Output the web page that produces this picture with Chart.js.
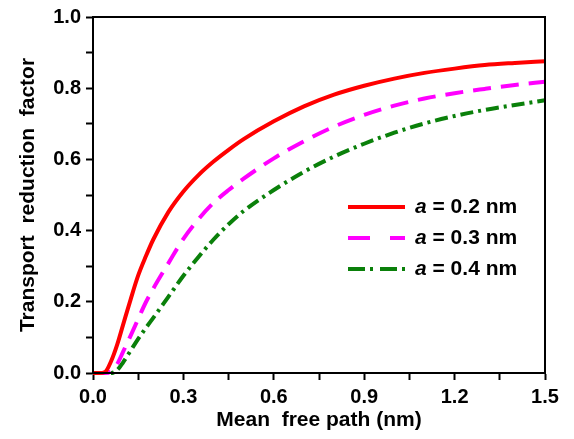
<!DOCTYPE html>
<html>
<head>
<meta charset="utf-8">
<script src="https://cdn.jsdelivr.net/npm/chart.js@4.4.1/dist/chart.umd.min.js"></script>
<style>
  html, body { margin: 0; padding: 0; background: #fff; }
  #wrap { width: 574px; height: 439px; }
</style>
</head>
<body>
<div id="wrap"><canvas id="chart" width="574" height="439"></canvas></div>
<script>
// mean free path (nm)
const pathValues = [0, 0.02, 0.04, 0.06, 0.08, 0.1, 0.125, 0.15, 0.175, 0.2, 0.25, 0.3, 0.35, 0.4, 0.45,
  0.5, 0.6, 0.7, 0.8, 0.9, 1.0, 1.1, 1.2, 1.3, 1.4, 1.5];
// transport reduction factor
const factorA02 = [0, 0, 0.003, 0.033, 0.079, 0.136, 0.207, 0.274, 0.327, 0.375, 0.452, 0.51, 0.556, 0.594, 0.627,
  0.657, 0.707, 0.749, 0.782, 0.807, 0.827, 0.843, 0.855, 0.865, 0.871, 0.876];
const factorA03 = [0, 0, 0, 0.005, 0.025, 0.06, 0.105, 0.152, 0.198, 0.237, 0.308, 0.377, 0.432, 0.478, 0.514,
  0.546, 0.603, 0.651, 0.692, 0.725, 0.751, 0.771, 0.786, 0.798, 0.809, 0.818];
const factorA04 = [0, 0, 0, 0, 0.008, 0.03, 0.063, 0.096, 0.126, 0.155, 0.214, 0.273, 0.326, 0.375, 0.418,
  0.455, 0.514, 0.565, 0.608, 0.644, 0.675, 0.701, 0.722, 0.739, 0.753, 0.766];
const seriesLabels = ["a = 0.2 nm", "a = 0.3 nm", "a = 0.4 nm"];
const xTitle = "Mean  free path (nm)";
const yTitle = "Transport  reduction  factor";

const FONT = "'Liberation Sans', Arial, sans-serif";
const colors = ["#ff0000", "#ff00ff", "#0a800a"];
const curveDash = [[], [18, 10], [13, 5, 3, 5]];
const legendDash = [[], [22, 20], [17, 5, 3, 7]];

const toPoints = (ys) => pathValues.map((x, i) => ({ x: x, y: ys[i] }));

// full box round the plot
const framePlugin = {
  id: "frame",
  afterDatasetsDraw(chart) {
    const { ctx, chartArea: a } = chart;
    ctx.save();
    ctx.strokeStyle = "#000";
    ctx.lineWidth = 2;
    ctx.strokeRect(a.left, a.top, a.right - a.left, a.bottom - a.top);
    ctx.restore();
  }
};

// legend with italic "a"
const legendPlugin = {
  id: "customLegend",
  afterDatasetsDraw(chart) {
    const ctx = chart.ctx;
    const x0 = 348, x1 = 405, tx = 415;
    const ys = [207, 238, 269];
    ctx.save();
    chart.data.datasets.forEach((ds, i) => {
      const y = ys[i];
      ctx.strokeStyle = ds.borderColor;
      ctx.lineWidth = 4;
      ctx.setLineDash(legendDash[i]);
      ctx.beginPath();
      ctx.moveTo(x0, y);
      ctx.lineTo(x1, y);
      ctx.stroke();
      ctx.setLineDash([]);
      ctx.fillStyle = "#000";
      ctx.textBaseline = "middle";
      ctx.textAlign = "left";
      const first = ds.label.slice(0, 1);
      const rest = ds.label.slice(1);
      ctx.font = "italic bold 21px " + FONT;
      ctx.fillText(first, tx, y);
      const w = ctx.measureText(first).width;
      ctx.font = "bold 21px " + FONT;
      ctx.fillText(rest, tx + w, y);
    });
    ctx.restore();
  }
};

new Chart(document.getElementById("chart"), {
  type: "line",
  data: {
    datasets: [factorA02, factorA03, factorA04].map((ys, i) => ({
      label: seriesLabels[i],
      data: toPoints(ys),
      borderColor: colors[i],
      borderWidth: 4,
      borderDash: curveDash[i],
      pointRadius: 0,
      cubicInterpolationMode: "monotone",
      fill: false,
      clip: 4
    }))
  },
  options: {
    responsive: false,
    animation: false,
    layout: { padding: { top: 15, right: 29, left: 0, bottom: 0 } },
    plugins: { legend: { display: false }, tooltip: { enabled: false } },
    scales: {
      x: {
        type: "linear",
        min: 0,
        max: 1.5,
        afterFit: (s) => { s.height = 66; },
        ticks: {
          stepSize: 0.15,
          autoSkip: false,
          maxRotation: 0,
          padding: 5,
          color: "#000",
          font: { family: FONT, size: 20, weight: "bold" },
          callback: (v, i) => (i % 2 === 0 ? Number(v).toFixed(1) : "")
        },
        grid: { drawOnChartArea: false, tickLength: 7, tickWidth: 2, tickColor: "#000" },
        border: { color: "#000", width: 2 },
        title: {
          display: true,
          text: xTitle,
          color: "#000",
          font: { family: FONT, size: 21, weight: "bold" },
          padding: { top: 0, bottom: 6 }
        }
      },
      y: {
        min: 0,
        max: 1,
        afterFit: (s) => { s.width = 93; },
        ticks: {
          stepSize: 0.1,
          autoSkip: false,
          padding: 5,
          color: "#000",
          font: { family: FONT, size: 20, weight: "bold" },
          callback: (v, i) => (i % 2 === 0 ? Number(v).toFixed(1) : "")
        },
        grid: { drawOnChartArea: false, tickLength: 7, tickWidth: 2, tickColor: "#000" },
        border: { color: "#000", width: 2 },
        title: {
          display: true,
          text: yTitle,
          color: "#000",
          font: { family: FONT, size: 21, weight: "bold" },
          padding: { top: 16, bottom: 0 }
        }
      }
    }
  },
  plugins: [framePlugin, legendPlugin]
});
</script>
</body>
</html>
